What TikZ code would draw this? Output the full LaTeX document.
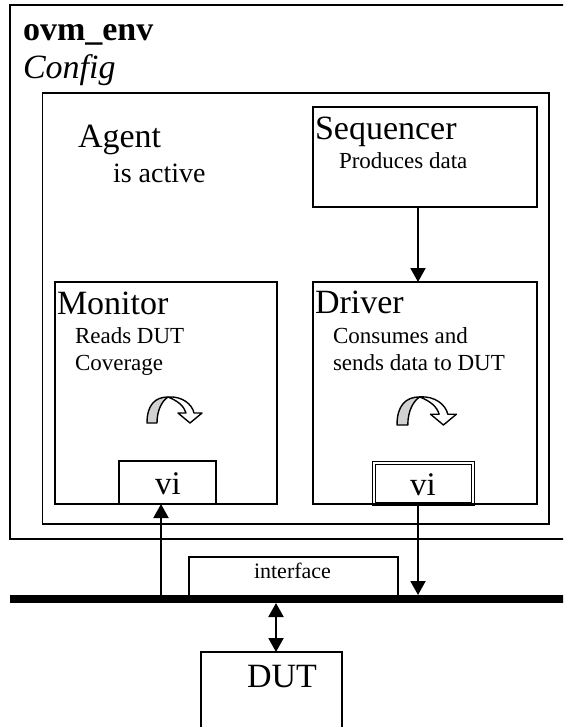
\documentclass[tikz,border=0pt]{standalone}
\usepackage{fontspec}
\setmainfont{Liberation Serif}
\usetikzlibrary{arrows.meta}
\begin{document}
\begin{tikzpicture}[x=1pt,y=-1pt,
  box/.style={draw,line width=1.6pt,inner sep=0pt,outer sep=0pt},
  txt/.style={anchor=base west,inner sep=0pt,outer sep=0pt},
  big/.style={font=\fontsize{34}{40}\selectfont},
  mid/.style={font=\fontsize{28}{32}\selectfont},
  small/.style={font=\fontsize{23}{27}\selectfont},
  tip/.style={Triangle[width=15pt,length=14pt]},
  arr/.style={line width=2pt,-{Triangle[width=15pt,length=14pt]}},
  darr/.style={line width=2pt,{Triangle[width=15pt,length=14pt]}-{Triangle[width=15pt,length=14pt]}},
  turn/.pic={
    \filldraw[fill=gray!35,line width=1.4pt,line join=round]
      (0,0) .. controls (0,-18) and (8,-26) .. (21,-26)
      .. controls (15,-22) and (10,-13) .. (10,0) -- cycle;
    \filldraw[fill=white,line width=1.4pt,line join=round]
      (21,-26) .. controls (35,-27) and (45,-19) .. (47,-10)
      -- (55,-10) -- (43,0) -- (31,-10) -- (39,-10)
      .. controls (37,-17) and (31,-22) .. (21,-26) -- cycle;
  }]
\useasboundingbox (0,0) rectangle (563,727);
\clip (0,0) rectangle (563,727);
\fill[white] (0,0) rectangle (563,727);

% boxes
\node[box,minimum width=590pt,minimum height=534pt] (env) at (305,272) {};
\node[box,minimum width=506.5pt,minimum height=431pt] (agent) at (295.75,308.5) {};
\node[box,minimum width=224pt,minimum height=100pt] (seq) at (425,157) {};
\node[box,minimum width=222pt,minimum height=222pt] (mon) at (166,393) {};
\node[box,minimum width=224pt,minimum height=222pt] (drv) at (425,393) {};
\node[box,minimum width=97pt,minimum height=43pt] (mvi) at (167.5,482.5) {};
\node[draw,line width=1.3pt,double,double distance=1.8pt,inner sep=0pt,outer sep=0pt,
      minimum width=99pt,minimum height=41pt] (dvi) at (423.5,483.5) {};
\node[box,minimum width=209pt,minimum height=40pt] (iface) at (293.5,577) {};
\node[fill=black,inner sep=0pt,outer sep=0pt,minimum width=590pt,minimum height=8pt] (bus) at (305,599) {};
\node[box,minimum width=141pt,minimum height=108pt] (dut) at (271.5,706) {};
\draw[line width=1.6pt] (mon.south west) -- (mon.south east);
\draw[line width=1.6pt] (drv.south west) -- (drv.south east);

% texts
\node[txt,font=\fontsize{34}{38}\selectfont\bfseries] (tenv) at (23,41) {ovm\_env};
\node[txt,font=\fontsize{34}{38}\selectfont\itshape] (tcfg) at (23,79) {Config};
\node[txt,big] (tag) at (78,148) {Agent};
\node[txt,mid] (tact) at (113,183) {is active};
\node[txt,big] (tseq) at (315,140) {Sequencer};
\node[txt,small] (tprod) at (339,169) {Produces data};
\node[txt,big] (tmon) at (57,314) {Monitor};
\node[txt,small] (trd) at (75,343) {Reads DUT};
\node[txt,small] (tcov) at (75,370) {Coverage};
\node[txt,big] (tdrv) at (315,313) {Driver};
\node[txt,small] (tcons) at (333,343) {Consumes and};
\node[txt,small] (tsend) at (333,370) {sends data to DUT};
\node[txt,font=\fontsize{33}{38}\selectfont] (tmvi) at (155,494) {vi};
\node[txt,font=\fontsize{33}{38}\selectfont] (tdvi) at (410,495) {vi};
\node[txt,font=\fontsize{22}{26}\selectfont] (tif) at (254,578) {interface};
\node[txt,big] (tdut) at (247,687) {DUT};

% curved arrows
\pic at (147,423) {turn};
\pic[scale=1.08] at (397,425) {turn};

% connectors
\draw[arr] ([xshift=-7pt]seq.south) -- ([xshift=-7pt]drv.north);
\coordinate (mup) at (161,595);
\draw[arr] (mup) -- (mup |- mvi.south);
\coordinate (ddown) at (418,502);
\draw[arr] (ddown) -- (ddown |- bus.north);
\coordinate (dd) at (276,603);
\draw[darr] (dd) -- (dd |- dut.north);
\end{tikzpicture}
\end{document}
